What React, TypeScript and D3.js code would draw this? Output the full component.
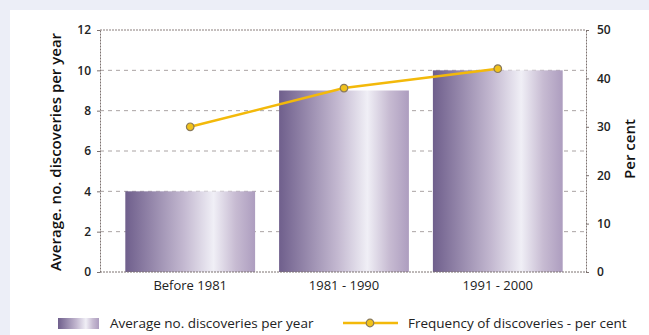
import React, { useEffect, useRef } from 'react';
import * as d3 from 'd3';

const categories = ['Before 1981', '1981 - 1990', '1991 - 2000'];
const avgDiscoveries = [4, 9, 10];
const frequencyPct = [30, 38, 42];
const leftTicks = [0, 2, 4, 6, 8, 10, 12];
const rightTicks = [0, 10, 20, 30, 40, 50];

const W = 649;
const H = 335;

const App = () => {
  const ref = useRef<SVGSVGElement>(null);

  useEffect(() => {
    document.body.style.margin = '0';
    const svg = d3.select(ref.current);
    svg.selectAll('*').remove();

    const font = "'Open Sans', 'DejaVu Sans', sans-serif";
    const plot = { left: 100, right: 586, top: 30, bottom: 272 };

    // background + white panel
    svg.append('rect').attr('width', W).attr('height', H).attr('fill', '#eceef7');
    svg.append('rect').attr('x', 10).attr('y', 10).attr('width', W - 10).attr('height', H - 10).attr('fill', '#ffffff');

    const defs = svg.append('defs');
    const grad = defs.append('linearGradient').attr('id', 'barGrad').attr('x1', '0%').attr('x2', '100%');
    [
      ['0%', '#6f5f8c'],
      ['20%', '#9486aa'],
      ['45%', '#c3b8d0'],
      ['68%', '#f0eff6'],
      ['85%', '#c7bbd2'],
      ['100%', '#ad9dbf']
    ].forEach(([o, c]) => grad.append('stop').attr('offset', o).attr('stop-color', c));

    const x = d3.scaleBand<string>()
      .domain(categories)
      .range([113, 575])
      .paddingInner(0.156)
      .paddingOuter(0.08);

    const yLeft = d3.scaleLinear().domain([0, 12]).range([plot.bottom, plot.top]);
    const yRight = d3.scaleLinear().domain([0, 50]).range([plot.bottom, plot.top]);

    // gridlines
    svg.append('g')
      .selectAll('line')
      .data(leftTicks.filter((t) => t > 0))
      .enter()
      .append('line')
      .attr('x1', plot.left)
      .attr('x2', plot.right)
      .attr('y1', (d) => yLeft(d))
      .attr('y2', (d) => yLeft(d))
      .attr('stroke', (d) => (d === 12 ? '#8a7f7c' : '#aaa3a3'))
      .attr('stroke-width', 1)
      .attr('stroke-dasharray', (d) => (d === 12 ? '2,1' : '4,4'));

    // bars
    svg.append('g')
      .selectAll('rect')
      .data(avgDiscoveries)
      .enter()
      .append('rect')
      .attr('x', (d, i) => x(categories[i]) as number)
      .attr('y', (d) => yLeft(d))
      .attr('width', x.bandwidth())
      .attr('height', (d) => plot.bottom - yLeft(d))
      .attr('fill', 'url(#barGrad)');

    // axes
    const axisStyle = (g: any) => {
      g.select('.domain').attr('stroke', '#7d7270').attr('stroke-dasharray', '2,1');
      g.selectAll('.tick line').attr('stroke', '#7d7270');
      g.selectAll('.tick text')
        .attr('font-family', font).attr('font-size', 12).attr('font-weight', 600).attr('fill', '#222');
    };

    svg.append('g')
      .attr('transform', `translate(${plot.left},0)`)
      .call(d3.axisLeft(yLeft).tickValues(leftTicks).tickSize(3).tickSizeOuter(0).tickPadding(6))
      .call(axisStyle);

    svg.append('g')
      .attr('transform', `translate(${plot.right},0)`)
      .call(d3.axisRight(yRight).tickValues(rightTicks).tickSize(3).tickSizeOuter(0).tickPadding(8))
      .call(axisStyle);

    const xAxis = svg.append('g')
      .attr('transform', `translate(0,${plot.bottom})`)
      .call(d3.axisBottom(x).tickSize(0).tickPadding(9));
    xAxis.select('.domain').remove();
    xAxis.selectAll('.tick text')
      .attr('font-family', font).attr('font-size', 13).attr('fill', '#222');
    svg.append('line')
      .attr('x1', plot.left).attr('x2', plot.right)
      .attr('y1', plot.bottom).attr('y2', plot.bottom)
      .attr('stroke', '#7d7270').attr('stroke-dasharray', '2,1');

    // axis titles
    svg.append('text')
      .attr('transform', `translate(61,${(plot.top + plot.bottom) / 2 + 1}) rotate(-90)`)
      .attr('text-anchor', 'middle')
      .attr('font-family', font).attr('font-size', 15).attr('font-weight', 600).attr('fill', '#111')
      .text('Average. no. discoveries per year');
    svg.append('text')
      .attr('transform', `translate(635,${(plot.top + plot.bottom) / 2 - 2}) rotate(-90)`)
      .attr('text-anchor', 'middle')
      .attr('font-family', font).attr('font-size', 15).attr('font-weight', 600).attr('fill', '#111')
      .text('Per cent');

    // line
    const cx = (i: number) => (x(categories[i]) as number) + x.bandwidth() / 2;
    const line = d3.line<number>()
      .x((d, i) => cx(i))
      .y((d) => yRight(d));
    svg.append('path')
      .datum(frequencyPct)
      .attr('d', line)
      .attr('fill', 'none')
      .attr('stroke', '#f3b90a')
      .attr('stroke-width', 2.5);
    svg.append('g')
      .selectAll('path')
      .data(frequencyPct)
      .enter()
      .append('path')
      .attr('transform', (d, i) => `translate(${cx(i)},${yRight(d)})`)
      .attr('d', d3.symbol(d3.symbolCircle, 45))
      .attr('fill', '#f1c21b')
      .attr('stroke', '#8a7a5a')
      .attr('stroke-width', 1.2);

    // legend
    const ly = 323;
    svg.append('rect')
      .attr('x', 58).attr('y', ly - 5).attr('width', 41).attr('height', 11)
      .attr('fill', 'url(#barGrad)');
    svg.append('text')
      .attr('x', 110).attr('y', ly + 5)
      .attr('font-family', font).attr('font-size', 13.5).attr('fill', '#222')
      .text('Average no. discoveries per year');
    svg.append('line')
      .attr('x1', 343).attr('x2', 398).attr('y1', ly).attr('y2', ly)
      .attr('stroke', '#f3b90a').attr('stroke-width', 2.5);
    svg.append('path')
      .attr('transform', `translate(370,${ly})`)
      .attr('d', d3.symbol(d3.symbolCircle, 45))
      .attr('fill', '#f1c21b')
      .attr('stroke', '#8a7a5a')
      .attr('stroke-width', 1.2);
    svg.append('text')
      .attr('x', 408).attr('y', ly + 5)
      .attr('font-family', font).attr('font-size', 13.5).attr('fill', '#222')
      .text('Frequency of discoveries - per cent');
  }, []);

  return <svg ref={ref} width={W} height={H} style={{ display: 'block' }} />;
};

export default App;
